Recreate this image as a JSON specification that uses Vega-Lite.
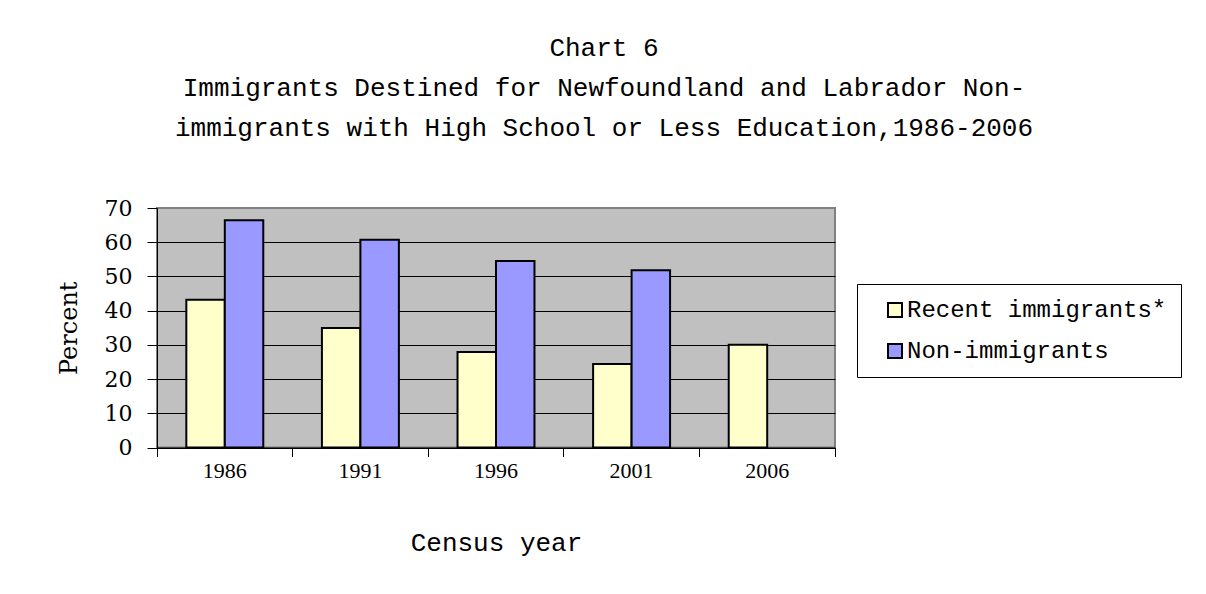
{
  "$schema": "https://vega.github.io/schema/vega-lite/v6.json",
  "width": 678,
  "height": 239.5,
  "autosize": {"type": "none"},
  "padding": {"left": 157, "top": 208, "right": 371, "bottom": 146.5},
  "background": "white",
  "title": {
    "text": [
      "Chart 6",
      "Immigrants Destined for Newfoundland and Labrador Non-",
      "immigrants with High School or Less Education,1986-2006"
    ],
    "font": "Liberation Mono",
    "fontSize": 26,
    "fontWeight": "normal",
    "color": "black",
    "lineHeight": 40,
    "anchor": "middle",
    "frame": "group",
    "dx": 108,
    "offset": 56
  },
  "data": {
    "values": [
      {"year": "1986", "group": "Recent immigrants*", "percent": 43.2},
      {"year": "1986", "group": "Non-immigrants", "percent": 66.4},
      {"year": "1991", "group": "Recent immigrants*", "percent": 34.9},
      {"year": "1991", "group": "Non-immigrants", "percent": 60.7},
      {"year": "1996", "group": "Recent immigrants*", "percent": 27.9},
      {"year": "1996", "group": "Non-immigrants", "percent": 54.5},
      {"year": "2001", "group": "Recent immigrants*", "percent": 24.4},
      {"year": "2001", "group": "Non-immigrants", "percent": 51.8},
      {"year": "2006", "group": "Recent immigrants*", "percent": 30.0}
    ]
  },
  "mark": {"type": "bar", "stroke": "black", "strokeWidth": 2},
  "encoding": {
    "x": {
      "field": "year",
      "type": "nominal",
      "scale": {"paddingInner": 0, "paddingOuter": 0},
      "axis": {
        "title": "Census year",
        "labelAngle": 0,
        "bandPosition": 1,
        "tickExtra": true,
        "tickSize": 9,
        "labelPadding": 4,
        "labelFont": "Liberation Serif",
        "labelFontSize": 22,
        "labelColor": "black",
        "titleFont": "Liberation Mono",
        "titleFontSize": 26,
        "titleFontWeight": "normal",
        "titleColor": "black",
        "titlePadding": 48,
        "domainColor": "black",
        "tickColor": "black",
        "grid": false
      }
    },
    "xOffset": {
      "field": "group",
      "type": "nominal",
      "scale": {
        "domain": ["Recent immigrants*", "Non-immigrants"],
        "paddingInner": 0,
        "paddingOuter": 0.762
      }
    },
    "y": {
      "field": "percent",
      "type": "quantitative",
      "scale": {"domain": [0, 70], "nice": false},
      "axis": {
        "title": "Percent",
        "values": [0, 10, 20, 30, 40, 50, 60, 70],
        "tickSize": 10,
        "labelPadding": 15,
        "labelFont": "DejaVu Serif",
        "labelFontSize": 22,
        "labelColor": "black",
        "titleFont": "DejaVu Serif",
        "titleFontSize": 24,
        "titleFontWeight": "normal",
        "titleColor": "black",
        "titlePadding": 23,
        "domainColor": "black",
        "tickColor": "black",
        "grid": true,
        "gridColor": {"condition": {"test": "datum.value === 70", "value": "#808080"}, "value": "black"},
        "gridWidth": 1
      }
    },
    "color": {
      "field": "group",
      "type": "nominal",
      "scale": {
        "domain": ["Recent immigrants*", "Non-immigrants"],
        "range": ["#FFFFCC", "#9999FF"]
      },
      "legend": {
        "title": null,
        "orient": "none",
        "legendX": 700,
        "legendY": 76,
        "direction": "vertical",
        "strokeColor": "black",
        "fillColor": "white",
        "padding": 14,
        "symbolType": "square",
        "symbolSize": 196,
        "symbolStrokeColor": "black",
        "symbolStrokeWidth": 2,
        "symbolOffset": 12,
        "labelFont": "Liberation Mono",
        "labelFontSize": 24,
        "labelColor": "black",
        "labelOffset": 0,
        "labelLimit": 400,
        "rowPadding": 17
      }
    }
  },
  "config": {
    "view": {"fill": "#C0C0C0", "stroke": "#808080", "strokeWidth": 2}
  }
}
